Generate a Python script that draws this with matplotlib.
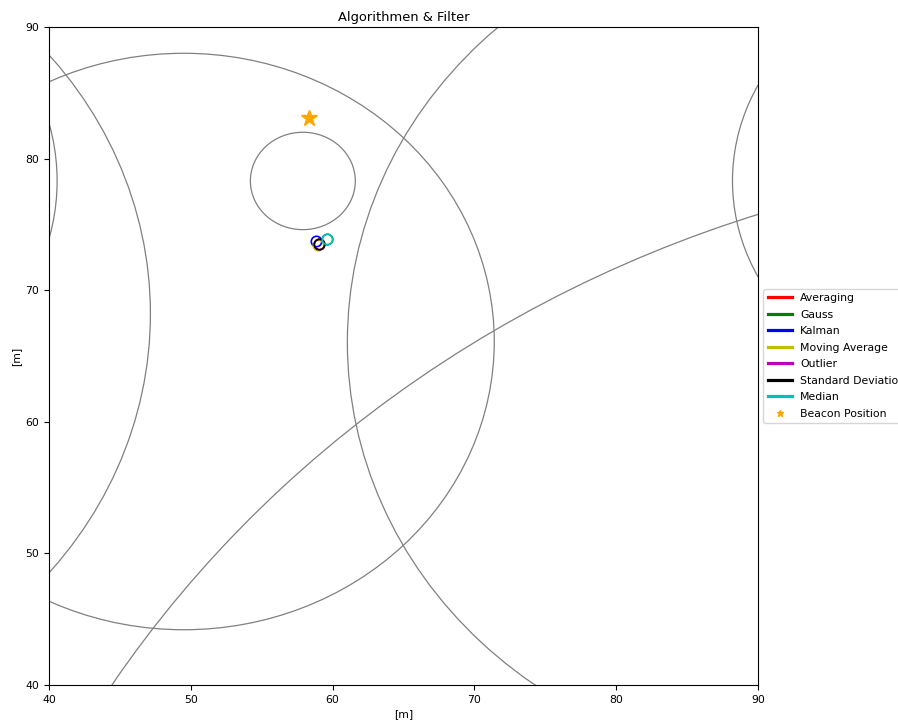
import matplotlib.pyplot as plt
from matplotlib.lines import Line2D
from matplotlib.patches import Circle

# distance circles around the beacons (x, y, radius) in metres
circle_x = [57.9, 23.4, 103.8, 49.5, 16.5, 93.3, 117.5]
circle_y = [78.3, 78.3, 78.3, 66.1, 68.2, 66.05, -6.2]
circle_r = [3.7, 17.17, 15.6, 21.9, 30.65, 32.26, 86.45]

# estimated positions per filter
filters = ['Averaging', 'Gauss', 'Kalman', 'Moving Average', 'Outlier',
           'Standard Deviation', 'Median']
colors = ['r', 'g', 'b', 'y', 'm', 'k', 'c']
est_x = [59.04, 59.63, 58.81, 58.99, 59.04, 59.04, 59.63]
est_y = [73.51, 73.89, 73.74, 73.43, 73.51, 73.51, 73.89]

beacon_x = 58.34
beacon_y = 83.09

plt.rcParams['font.size'] = 7.8

fig = plt.figure(figsize=(8.98, 7.21), dpi=100)
ax = fig.add_axes([0.0546, 0.0499, 0.7895, 0.9127])

for cx, cy, r in zip(circle_x, circle_y, circle_r):
    ax.add_patch(Circle((cx, cy), r, fill=False, edgecolor='gray', lw=0.9))

for i in range(len(filters)):
    ax.plot(est_x[i], est_y[i], 'o', markerfacecolor='none',
            markeredgecolor=colors[i], markersize=7.5, markeredgewidth=1.2)

ax.plot(beacon_x, beacon_y, '*', color='orange', markersize=12)

ax.set_xlim(40, 90)
ax.set_ylim(40, 90)
ax.set_title('Algorithmen & Filter', fontsize=9.4, pad=4)
ax.set_xlabel('[m]', labelpad=3)
ax.set_ylabel('[m]', labelpad=3)

handles = [Line2D([0], [0], color=c, lw=2.3) for c in colors]
handles.append(Line2D([0], [0], marker='*', color='orange', linestyle='none',
                      markersize=5))
ax.legend(handles, filters + ['Beacon Position'], loc='center left',
          bbox_to_anchor=(1.0, 0.5), handlelength=2.2, labelspacing=0.6)

plt.savefig('out.png', dpi=100)
